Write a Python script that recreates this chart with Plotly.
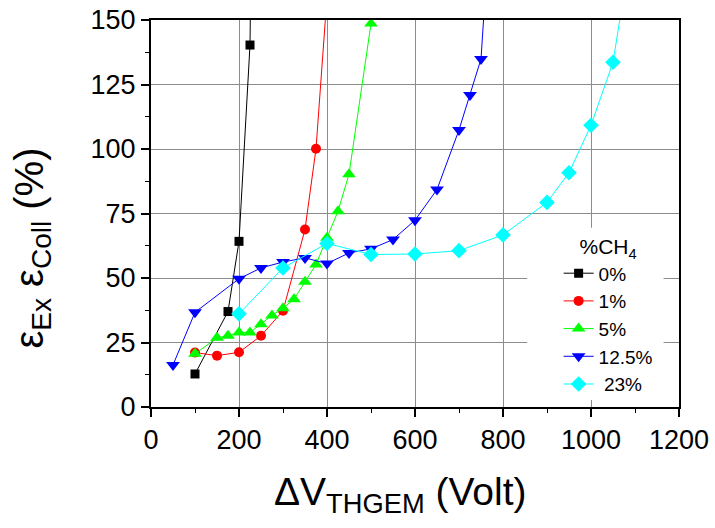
import plotly.graph_objects as go

# Gas-mixture series: THGEM voltage (V) vs. extraction x collection efficiency (%)
v_0 = [100, 175, 200, 225, 250]
eff_0 = [12.8, 37.0, 64.2, 140.3, 500.0]

v_1 = [100, 150, 200, 250, 300, 350, 375, 400]
eff_1 = [21.1, 19.9, 21.2, 27.6, 37.3, 68.8, 100.1, 159.0]

v_5 = [100, 150, 175, 200, 225, 250, 275, 300, 325, 350, 375, 400, 425, 450, 500]
eff_5 = [20.6, 26.8, 27.6, 28.9, 28.9, 32.1, 35.5, 38.3, 41.8, 48.5, 55.2, 65.6, 75.9, 90.2, 148.6]

v_125 = [50, 100, 200, 250, 300, 350, 400, 450, 500, 550, 600, 650, 700, 725, 750, 775]
eff_125 = [16.3, 36.7, 49.7, 53.9, 56.2, 57.8, 55.6, 59.7, 61.3, 64.9, 72.4, 84.3, 107.4, 120.9, 134.9, 200.0]

v_23 = [200, 300, 400, 500, 600, 700, 800, 900, 950, 1000, 1050, 1100]
eff_23 = [36.1, 53.9, 63.4, 59.1, 59.3, 60.6, 66.7, 79.3, 90.8, 109.2, 133.6, 187.0]

series = [
    ("0%", v_0, eff_0, "#000000", "square", 9),
    ("1%", v_1, eff_1, "#ff0000", "circle", 10),
    ("5%", v_5, eff_5, "#00ff00", "triangle-up", 12),
    ("12.5%", v_125, eff_125, "#0000ff", "triangle-down", 12),
    (" 23%", v_23, eff_23, "#00ffff", "diamond", 12),
]

FONT = "Liberation Sans, Arial, sans-serif"

fig = go.Figure()
for name, xs, ys, color, symbol, size in series:
    fig.add_trace(go.Scatter(
        x=xs, y=ys, name=name, mode="lines+markers",
        line=dict(color=color, width=1),
        marker=dict(symbol=symbol, size=size, color=color, line=dict(width=0)),
    ))

axis_common = dict(
    showline=True, linecolor="black", linewidth=2, mirror=True,
    ticks="outside", ticklen=8, tickwidth=1.5, tickcolor="black",
    showgrid=True, gridcolor="#8c8c8c", gridwidth=1,
    zeroline=False, automargin=False,
    tickfont=dict(family=FONT, size=27, color="black"),
)

fig.update_xaxes(
    range=[0, 1200], tick0=0, dtick=200,
    minor=dict(dtick=100, ticks="outside", ticklen=4, tickwidth=1, tickcolor="black", showgrid=False),
    **axis_common,
)
fig.update_yaxes(
    range=[0, 150], tick0=0, dtick=25,
    minor=dict(dtick=12.5, ticks="outside", ticklen=4, tickwidth=1, tickcolor="black", showgrid=False),
    **axis_common,
)

# white panel behind the legend, covering the grid
fig.add_shape(
    type="rect", xref="x", yref="y", layer="between",
    x0=855, x1=1165, y0=2.7, y1=69.5,
    fillcolor="white", line=dict(width=0),
)

fig.add_annotation(
    text="ΔV<sub>THGEM</sub> (Volt)", xref="paper", yref="paper",
    x=0.4716, y=-0.225, xanchor="center", yanchor="middle", showarrow=False,
    font=dict(family=FONT, size=39, color="black"),
)
fig.add_annotation(
    text="ε<sub>Ex</sub> ε<sub>Coll</sub> (%)", xref="paper", yref="paper",
    x=-0.225, y=0.41, xanchor="center", yanchor="middle", showarrow=False,
    textangle=-90,
    font=dict(family=FONT, size=40, color="black"),
)

fig.update_layout(
    width=715, height=528,
    margin=dict(l=151, r=36, t=20, b=121),
    paper_bgcolor="white", plot_bgcolor="white",
    font=dict(family=FONT, color="black"),
    legend=dict(
        x=0.772, y=0.465, xanchor="left", yanchor="top",
        bgcolor="rgba(0,0,0,0)", borderwidth=0,
        font=dict(family=FONT, size=19, color="black"),
        title=dict(text="%CH<sub>4</sub>", side="top center",
                   font=dict(family=FONT, size=21, color="black")),
        tracegroupgap=0,
    ),
)

fig.write_html("out.html")
